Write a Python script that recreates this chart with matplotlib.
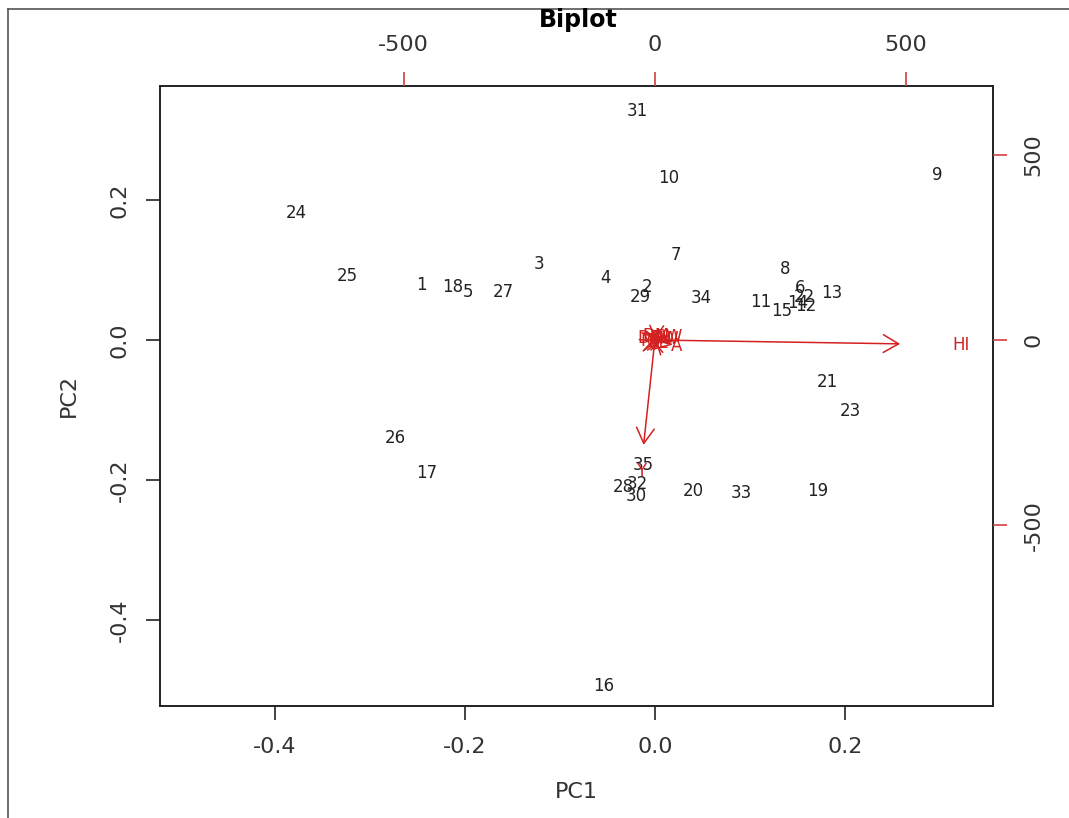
import matplotlib
matplotlib.use("Agg")
import matplotlib.pyplot as plt
from matplotlib.lines import Line2D

plt.rcParams['font.family'] = ['DejaVu Sans']

# observation scores (PC1, PC2)
obs_labels = [str(i) for i in range(1, 36)]
pc1 = [-0.246, -0.008, -0.122, -0.052, -0.197, 0.153, 0.022, 0.137, 0.297, 0.015,
       0.111, 0.159, 0.186, 0.150, 0.134, -0.054, -0.240, -0.213, 0.171, 0.040,
       0.182, 0.157, 0.206, -0.377, -0.324, -0.273, -0.160, -0.033, -0.015, -0.020,
       -0.018, -0.019, 0.091, 0.049, -0.012]
pc2 = [0.079, 0.076, 0.109, 0.089, 0.069, 0.074, 0.121, 0.101, 0.236, 0.231,
       0.054, 0.049, 0.067, 0.053, 0.041, -0.494, -0.190, 0.076, -0.216, -0.216,
       -0.060, 0.061, -0.101, 0.181, 0.091, -0.140, 0.069, -0.210, 0.061, -0.223,
       0.327, -0.206, -0.219, 0.060, -0.179]

# variable loadings (top / right axis units)
var_labels = ["HI", "Y", "A", "DF", "DM", "PH", "NT", "TW", "SL", "GW"]
load1 = [610, -28, 44, -12, 2, 12, -6, 20, 8, 26]
load2 = [-13, -354, -16, 6, 12, 2, -4, 4, -8, 8]

xlim = (-0.521, 0.356)
ylim = (-0.523, 0.363)
ratio = 1890

fig = plt.figure(figsize=(10.69, 8.18), dpi=100)
ax = fig.add_axes([0.1497, 0.1369, 0.7792, 0.758])

for lab, x, y in zip(obs_labels, pc1, pc2):
    ax.text(x, y, lab, ha='center', va='center', fontsize=12, color='#222222')

ax.set_xlim(xlim)
ax.set_ylim(ylim)
ax.set_xticks([-0.4, -0.2, 0.0, 0.2])
ax.set_xticklabels(["-0.4", "-0.2", "0.0", "0.2"])
ax.set_yticks([-0.4, -0.2, 0.0, 0.2])
ax.set_yticklabels(["-0.4", "-0.2", "0.0", "0.2"], rotation=90, va='center')
ax.tick_params(length=10, width=1.2, labelsize=16, pad=12, color='#222222', labelcolor='#333333')
ax.set_xlabel("PC1", fontsize=16, labelpad=18, color='#333333')
ax.set_ylabel("PC2", fontsize=16, labelpad=22, color='#333333')
for s in ax.spines.values():
    s.set_linewidth(1.4)
    s.set_color('#222222')

# second axes for the variables
ax2 = fig.add_axes(ax.get_position(), frameon=False)
ax2.set_xlim(xlim[0] * ratio, xlim[1] * ratio)
ax2.set_ylim(ylim[0] * ratio, ylim[1] * ratio)
ax2.xaxis.tick_top()
ax2.yaxis.tick_right()
ax2.set_xticks([-500, 0, 500])
ax2.set_xticklabels(["-500", "0", "500"])
ax2.set_yticks([-500, 0, 500])
ax2.set_yticklabels(["-500", "0", "500"], rotation=90, va='center')
ax2.tick_params(length=10, width=1.2, labelsize=16, pad=12, color='#d04040', labelcolor='#333333')
ax2.patch.set_visible(False)

red = '#d42020'
for lab, x, y in zip(var_labels, load1, load2):
    ax2.annotate("", xy=(0.8 * x, 0.8 * y), xytext=(0, 0),
                 arrowprops=dict(arrowstyle='->,head_length=0.55,head_width=0.32',
                                 color=red, lw=1.1, shrinkA=0, shrinkB=0, mutation_scale=20))
    ax2.text(x, y, lab, ha='center', va='center', fontsize=12, color=red)

fig.text(0.5405, 0.9756, "Biplot", ha='center', va='center', fontsize=17, fontweight='bold')

# outer frame (top and left)
fig.add_artist(Line2D([0.0075, 1.0], [0.989, 0.989], color='#555555', lw=1.2))
fig.add_artist(Line2D([0.0075, 0.0075], [0.0, 0.989], color='#555555', lw=1.2))

fig.savefig("out.png", dpi=100)
